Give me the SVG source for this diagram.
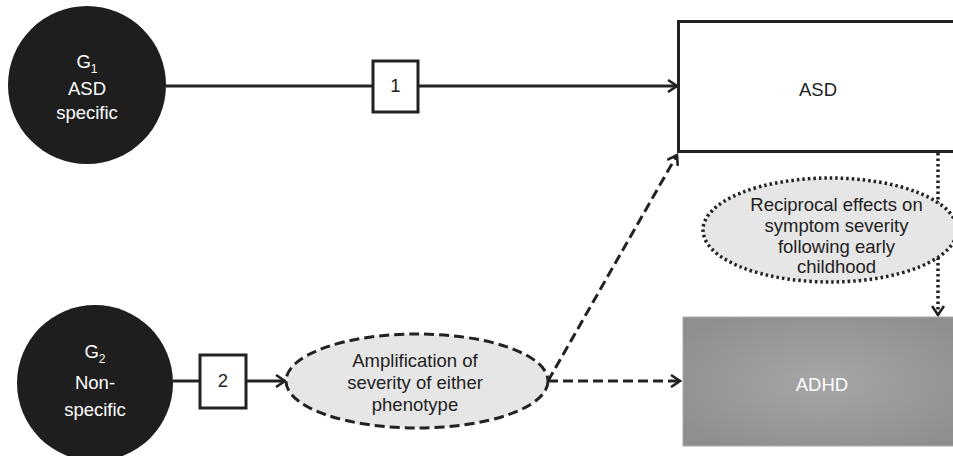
<svg xmlns="http://www.w3.org/2000/svg" width="953" height="456" viewBox="0 0 953 456">
<defs>
<marker id="arr" markerWidth="14" markerHeight="14" refX="11" refY="7" orient="auto" markerUnits="userSpaceOnUse">
<path d="M2,1 L11,7 L2,13" fill="none" stroke="#222" stroke-width="2.6"/>
</marker>
<radialGradient id="gadhd" cx="0.5" cy="0.5" r="0.6">
<stop offset="0" stop-color="#a6a6a6"/>
<stop offset="1" stop-color="#8f8f8f"/>
</radialGradient>
</defs>
<style>
text{font-family:"Liberation Sans",Arial,sans-serif;text-anchor:middle;fill:#222;font-size:18.5px}
.w{fill:#fff}
.solid{fill:none;stroke:#222;stroke-width:3}
.dash{fill:none;stroke:#222;stroke-width:3;stroke-dasharray:10,5}
.dot{fill:none;stroke:#222;stroke-width:3.5;stroke-dasharray:2.5,3}
</style>
<g id="connectors">
<line class="solid" x1="166" y1="86" x2="373" y2="86"/>
<line class="solid" x1="418" y1="86" x2="677" y2="86" marker-end="url(#arr)"/>
<line class="solid" x1="173" y1="381" x2="200" y2="381"/>
<line class="solid" x1="246" y1="381" x2="285" y2="381" marker-end="url(#arr)"/>
<line class="dash" x1="548" y1="381" x2="680" y2="381" marker-end="url(#arr)"/>
<line class="dash" x1="548" y1="381" x2="677" y2="155" marker-end="url(#arr)"/>
<line class="dot" x1="938" y1="153" x2="938" y2="315" marker-end="url(#arr)"/>
</g>
<g id="G1">
<circle cx="87" cy="85" r="79" fill="#1e1e1e"/>
<text class="w" x="87" y="68">G<tspan font-size="12" dy="5">1</tspan></text>
<text class="w" x="87" y="95">ASD</text>
<text class="w" x="87" y="119">specific</text>
</g>
<g id="G2">
<circle cx="95" cy="383" r="78" fill="#1e1e1e"/>
<text class="w" x="95" y="358">G<tspan font-size="12" dy="5">2</tspan></text>
<text class="w" x="95" y="389">Non-</text>
<text class="w" x="95" y="416">specific</text>
</g>
<g id="box1">
<rect class="solid" x="373" y="61" width="45" height="51" fill="#fff"/>
<text x="395.5" y="92" font-size="17">1</text>
</g>
<g id="box2">
<rect class="solid" x="200" y="355" width="46" height="53" fill="#fff"/>
<text x="223" y="387" font-size="17">2</text>
</g>
<g id="ASD">
<rect x="678.5" y="21.5" width="290" height="130" fill="#fff" stroke="#222" stroke-width="3"/>
<text x="818" y="96" font-size="21">ASD</text>
</g>
<g id="ADHD">
<rect x="683" y="317" width="280" height="129" fill="url(#gadhd)" stroke="#aaa" stroke-width="1"/>
<text class="w" x="822" y="391" font-size="21">ADHD</text>
</g>
<g id="amplification">
<ellipse class="dash" cx="417" cy="381" rx="131" ry="47" style="fill:#e6e6e6"/>
<text x="415" y="367">Amplification of</text>
<text x="415" y="389">severity of either</text>
<text x="415" y="411">phenotype</text>
</g>
<g id="reciprocal">
<ellipse class="dot" cx="830" cy="230" rx="127" ry="52" style="fill:#e6e6e6"/>
<text x="836.5" y="211" font-size="16">Reciprocal effects on</text>
<text x="836.5" y="232" font-size="16">symptom severity</text>
<text x="836.5" y="253" font-size="16">following early</text>
<text x="836.5" y="273" font-size="16">childhood</text>
</g>
</svg>
